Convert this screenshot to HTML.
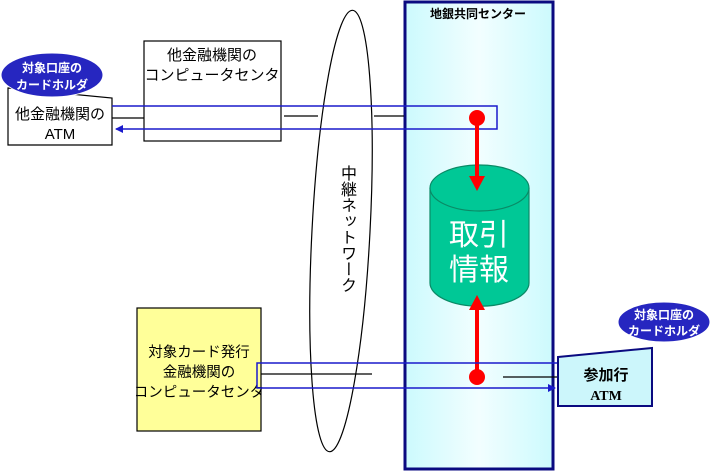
<!DOCTYPE html>
<html><head><meta charset="utf-8"><style>
html,body{margin:0;padding:0;background:#fff;}
svg{display:block;font-family:"Liberation Sans","Noto Sans CJK JP",sans-serif;}
.vt{position:absolute;left:337px;top:165px;writing-mode:vertical-rl;font-family:"Liberation Sans","Noto Sans CJK JP",sans-serif;font-size:16px;line-height:18px;letter-spacing:0px;}
</style></head><body>
<div style="position:relative;width:720px;height:473px;">
<svg width="720" height="473" viewBox="0 0 720 473" xmlns="http://www.w3.org/2000/svg">
<defs>
<linearGradient id="cg" x1="0" x2="1" y1="0" y2="0">
<stop offset="0" stop-color="#ccfafd"/><stop offset="0.5" stop-color="#f2feff"/><stop offset="1" stop-color="#ccfafd"/>
</linearGradient>
<marker id="ab" markerWidth="8" markerHeight="8" refX="7" refY="4" orient="auto" markerUnits="userSpaceOnUse"><path d="M0,0 L8,4 L0,8 z" fill="#1a1acc"/></marker>
</defs>
<rect x="405" y="2" width="148" height="467" fill="url(#cg)" stroke="#0a0a80" stroke-width="3"/>
<text x="478" y="18" font-size="12" font-weight="bold" text-anchor="middle">地銀共同センター</text>
<ellipse cx="0" cy="0" rx="29" ry="221" fill="none" stroke="#000" stroke-width="1.2" transform="translate(341,231) rotate(3)"/>
<rect x="144" y="41" width="137" height="100" fill="#fff" stroke="#000" stroke-width="1.2"/>
<text x="212" y="60" font-size="15" text-anchor="middle">他金融機関の</text>
<text x="212" y="80" font-size="15" text-anchor="middle">コンピュータセンタ</text>
<polygon points="8,88 112,98 112,145 8,145" fill="#fff" stroke="#000" stroke-width="1.2"/>
<text x="60" y="119" font-size="15" text-anchor="middle">他金融機関の</text>
<text x="60" y="139" font-size="15" text-anchor="middle">ATM</text>
<ellipse cx="52" cy="75" rx="51" ry="22" fill="#2626c0" stroke="#fff" stroke-width="1"/>
<text x="52" y="72" font-size="12" fill="#fff" font-weight="bold" text-anchor="middle">対象口座の</text>
<text x="52" y="89" font-size="12" fill="#fff" font-weight="bold" text-anchor="middle">カードホルダ</text>
<line x1="112" y1="118" x2="144" y2="118" stroke="#000" stroke-width="1.2"/>
<line x1="284" y1="116" x2="318" y2="116" stroke="#000" stroke-width="1.2"/>
<line x1="374" y1="116" x2="404" y2="116" stroke="#000" stroke-width="1.2"/>
<polyline points="112,106 497,106 497,129 116,129" fill="none" stroke="#1a1acc" stroke-width="1.5" marker-end="url(#ab)"/>
<path d="M430,188 L430,283 A49,23 0 0 0 529,283 L529,188" fill="#00c896" stroke="#0a8a66" stroke-width="1.2"/>
<ellipse cx="479.5" cy="188" rx="49.5" ry="23" fill="#00c896" stroke="#0a8a66" stroke-width="1.2"/>
<text x="479" y="245" font-size="30" fill="#fff" text-anchor="middle">取引</text>
<text x="479" y="280" font-size="30" fill="#fff" text-anchor="middle">情報</text>
<line x1="477" y1="118" x2="477" y2="178" stroke="#f00" stroke-width="4"/>
<polygon points="469,176 485,176 477,191" fill="#f00"/>
<circle cx="477" cy="118" r="8" fill="#f00"/>
<line x1="477" y1="377" x2="477" y2="308" stroke="#f00" stroke-width="4"/>
<polygon points="469,310 485,310 477,295" fill="#f00"/>
<circle cx="477" cy="377" r="8" fill="#f00"/>
<rect x="137" y="308" width="124" height="123" fill="#ffff99" stroke="#000" stroke-width="1.2"/>
<text x="199" y="357" font-size="14.5" text-anchor="middle">対象カード発行</text>
<text x="199" y="377" font-size="14.5" text-anchor="middle">金融機関の</text>
<text x="199" y="397" font-size="14.5" text-anchor="middle">コンピュータセンタ</text>
<line x1="261" y1="374" x2="372" y2="374" stroke="#000" stroke-width="1.2"/>
<line x1="503" y1="377" x2="558" y2="377" stroke="#000" stroke-width="1.2"/>
<polyline points="558,363 257,363 257,388 555,388" fill="none" stroke="#1a1acc" stroke-width="1.5" marker-end="url(#ab)"/>
<polygon points="558,357 652,348 652,406 558,406" fill="#ccf6fb" stroke="#0a0a80" stroke-width="2"/>
<text x="606" y="380" font-size="15" font-weight="bold" text-anchor="middle">参加行</text>
<text x="606" y="400" font-size="14" font-weight="bold" text-anchor="middle" font-family="Liberation Serif,serif">ATM</text>
<ellipse cx="664" cy="322" rx="46" ry="20" fill="#2626c0" stroke="#fff" stroke-width="1"/>
<text x="664" y="319" font-size="12" fill="#fff" font-weight="bold" text-anchor="middle">対象口座の</text>
<text x="664" y="335" font-size="12" fill="#fff" font-weight="bold" text-anchor="middle">カードホルダ</text>
</svg>
<div class="vt">中継ネットワーク</div>
</div>
</body></html>
